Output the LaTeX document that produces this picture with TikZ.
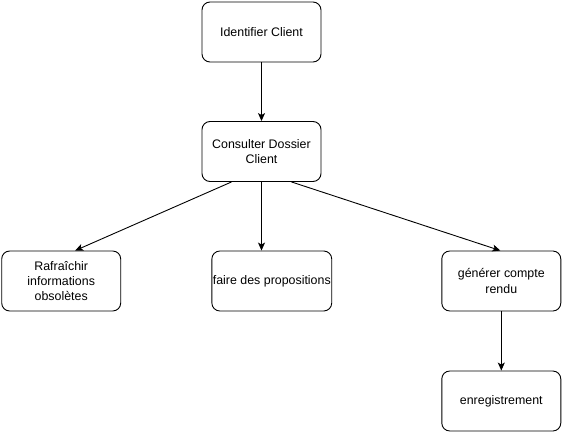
\documentclass[tikz,border=0pt]{standalone}
\usepackage{fontspec}
\setmainfont{Liberation Sans}
\usetikzlibrary{arrows.meta}

\begin{document}
\begin{tikzpicture}[x=1pt,y=-1pt,
  etape/.style={draw, rounded corners=8pt, line width=0.9pt, minimum width=119pt, minimum height=60pt, align=center, inner sep=1pt, font=\fontsize{12.4}{15.2}\selectfont},
  fleche/.style={-{Stealth[length=8pt,width=7pt,inset=2pt]}, line width=0.9pt}]
\useasboundingbox (0,0) rectangle (563,436);
\node[etape] (ident) at (261.5,32) {Identifier Client};
\node[etape] (consult) at (261.5,151.5) {Consulter Dossier\\Client};
\node[etape] (rafr) at (61.2,281) {Rafraîchir\\informations\\obsolètes};
\node[etape] (faire) at (271.8,281) {faire des propositions};
\node[etape] (gener) at (501.3,281) {générer compte\\rendu};
\node[etape] (enreg) at (501.3,401) {enregistrement};
\path[fleche] (ident) edge (consult)
          ([xshift=-30pt]consult.south) edge ([xshift=14pt]rafr.north)
          (consult.south) edge (consult.south |- faire.north)
          ([xshift=30pt]consult.south) edge ([xshift=-1pt]gener.north)
          (gener) edge (enreg)
          ;
\end{tikzpicture}
\end{document}
